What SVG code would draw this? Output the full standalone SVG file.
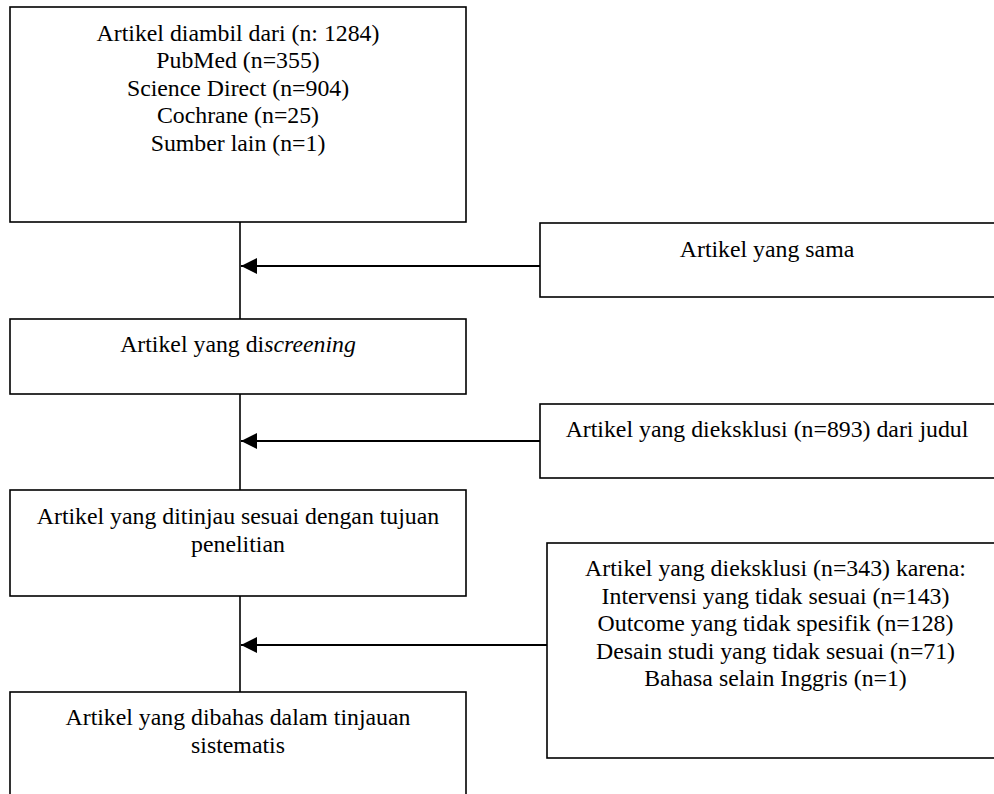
<svg xmlns="http://www.w3.org/2000/svg" width="994" height="794" viewBox="0 0 994 794">
<defs>
<style>
.box{fill:#fff;stroke:#000;stroke-width:1.6}
.t{font-family:"Liberation Serif","Times New Roman",serif;font-size:23.8px;fill:#000;text-anchor:middle}
.v{stroke:#000;stroke-width:1.6;fill:none}
.h{stroke:#000;stroke-width:2;fill:none}
</style>
<marker id="ah" viewBox="0 0 16 16" refX="16" refY="8" markerWidth="16" markerHeight="16" markerUnits="userSpaceOnUse" orient="auto">
<path d="M0,0 L16,8 L0,16 Z" fill="#000"/>
</marker>
</defs>
<rect width="994" height="794" fill="#fff"/>
<g id="connectors">
<line class="v" x1="240" y1="222" x2="240" y2="319"/>
<line class="v" x1="240" y1="394" x2="240" y2="490"/>
<line class="v" x1="240" y1="596" x2="240" y2="692"/>
<line class="h" x1="540" y1="266" x2="241" y2="266" marker-end="url(#ah)"/>
<line class="h" x1="540" y1="441" x2="241" y2="441" marker-end="url(#ah)"/>
<line class="h" x1="547" y1="645" x2="241" y2="645" marker-end="url(#ah)"/>
</g>
<g id="n1">
<rect class="box" x="10" y="7" width="456" height="215"/>
<text class="t" x="238" y="40.5">Artikel diambil dari (n: 1284)</text>
<text class="t" x="238" y="68">PubMed (n=355)</text>
<text class="t" x="238" y="95.5">Science Direct (n=904)</text>
<text class="t" x="238" y="123">Cochrane (n=25)</text>
<text class="t" x="238" y="150.5">Sumber lain (n=1)</text>
</g>
<g id="n2">
<rect class="box" x="10" y="319" width="456" height="75"/>
<text class="t" x="238" y="352">Artikel yang di<tspan font-style="italic">screening</tspan></text>
</g>
<g id="n3">
<rect class="box" x="10" y="490" width="456" height="106"/>
<text class="t" x="238" y="524">Artikel yang ditinjau sesuai dengan tujuan</text>
<text class="t" x="238" y="551.5">penelitian</text>
</g>
<g id="n4">
<rect class="box" x="10" y="692" width="456" height="120"/>
<text class="t" x="238" y="725">Artikel yang dibahas dalam tinjauan</text>
<text class="t" x="238" y="752.5">sistematis</text>
</g>
<g id="r1">
<rect class="box" x="540" y="223" width="456" height="74"/>
<text class="t" x="767" y="257">Artikel yang sama</text>
</g>
<g id="r2">
<rect class="box" x="540" y="404" width="456" height="74"/>
<text class="t" x="767" y="437">Artikel yang dieksklusi (n=893) dari judul</text>
</g>
<g id="r3">
<rect class="box" x="547" y="543" width="458" height="215"/>
<text class="t" x="775.5" y="576">Artikel yang dieksklusi (n=343) karena:</text>
<text class="t" x="775.5" y="603.5">Intervensi yang tidak sesuai (n=143)</text>
<text class="t" x="775.5" y="631">Outcome yang tidak spesifik (n=128)</text>
<text class="t" x="775.5" y="658.5">Desain studi yang tidak sesuai (n=71)</text>
<text class="t" x="775.5" y="686">Bahasa selain Inggris (n=1)</text>
</g>
</svg>
